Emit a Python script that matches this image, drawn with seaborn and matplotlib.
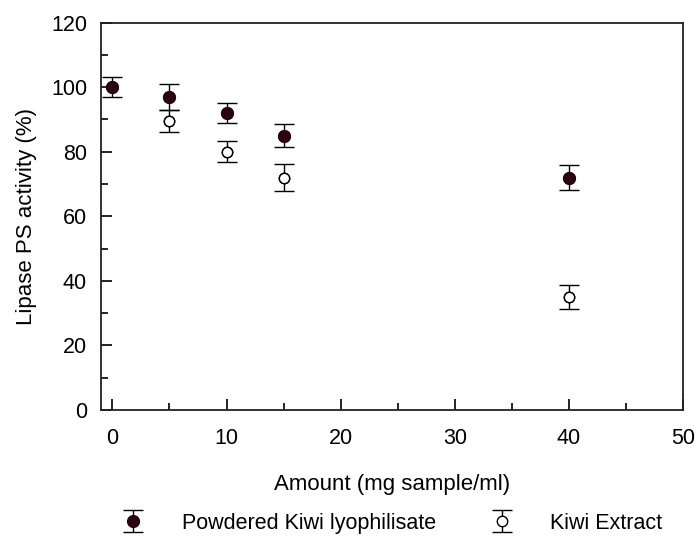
import matplotlib
matplotlib.use("Agg")
import matplotlib.pyplot as plt
import pandas as pd
import seaborn as sns
from matplotlib.ticker import MultipleLocator

# Data
powder_x = [0, 5, 10, 15, 40]
powder_y = [100, 97, 92, 85, 72]
powder_err = [3, 4, 3, 3.6, 4]

extract_x = [5, 10, 15, 40]
extract_y = [89.5, 80, 72, 35]
extract_err = [3.5, 3.2, 4.3, 3.8]

sns.set_theme(style="ticks")
plt.rcParams['font.family'] = ['Liberation Sans', 'DejaVu Sans']
plt.rcParams['text.color'] = "black"
plt.rcParams['axes.labelcolor'] = "black"

df_powder = pd.DataFrame({"x": powder_x, "y": powder_y, "err": powder_err})
df_extract = pd.DataFrame({"x": extract_x, "y": extract_y, "err": extract_err})

fig = plt.figure(figsize=(6.96, 5.36), dpi=100)
ax = fig.add_axes([0.1451, 0.235, 0.8362, 0.723])

dark = "#2a0012"
sns.scatterplot(data=df_powder, x="x", y="y", ax=ax, color=dark, s=70,
                edgecolor=dark, linewidth=0.8, legend=False, zorder=3)
sns.scatterplot(data=df_extract, x="x", y="y", ax=ax, facecolor="white", s=55,
                edgecolor="black", linewidth=1.0, legend=False, zorder=3)

h1 = ax.errorbar(df_powder["x"], df_powder["y"], yerr=df_powder["err"], fmt="o",
                 color=dark, ecolor="black", elinewidth=1, capsize=7, capthick=1,
                 markersize=8.5, zorder=2, label="Powdered Kiwi lyophilisate")
h2 = ax.errorbar(df_extract["x"], df_extract["y"], yerr=df_extract["err"], fmt="o",
                 color="black", mfc="white", ecolor="black", elinewidth=1, capsize=7,
                 capthick=1, markersize=7.5, zorder=2, label="Kiwi Extract")

ax.set_xlim(-1, 50)
ax.set_ylim(0, 120)
ax.xaxis.set_major_locator(MultipleLocator(10))
ax.xaxis.set_minor_locator(MultipleLocator(5))
ax.yaxis.set_major_locator(MultipleLocator(20))
ax.yaxis.set_minor_locator(MultipleLocator(10))
ax.tick_params(which="both", direction="in", top=False, right=False,
               labelsize=15.5, colors="black")
ax.tick_params(axis="x", pad=13)
ax.tick_params(axis="y", pad=10)
ax.tick_params(which="major", length=8, width=1.2)
ax.tick_params(which="minor", length=5, width=1.2)
for sp in ax.spines.values():
    sp.set_linewidth(1.3)
    sp.set_color("#222222")

ax.set_xlabel("Amount (mg sample/ml)", fontsize=16, labelpad=18)
ax.set_ylabel("Lipase PS activity (%)", fontsize=16, labelpad=10)

fig.legend(handles=[h1, h2], loc="center", bbox_to_anchor=(0.56, 0.024),
           ncol=2, frameon=False, fontsize=15.5, columnspacing=2.3,
           handletextpad=1.5, handlelength=1.5)

fig.savefig("out.png", dpi=100)
